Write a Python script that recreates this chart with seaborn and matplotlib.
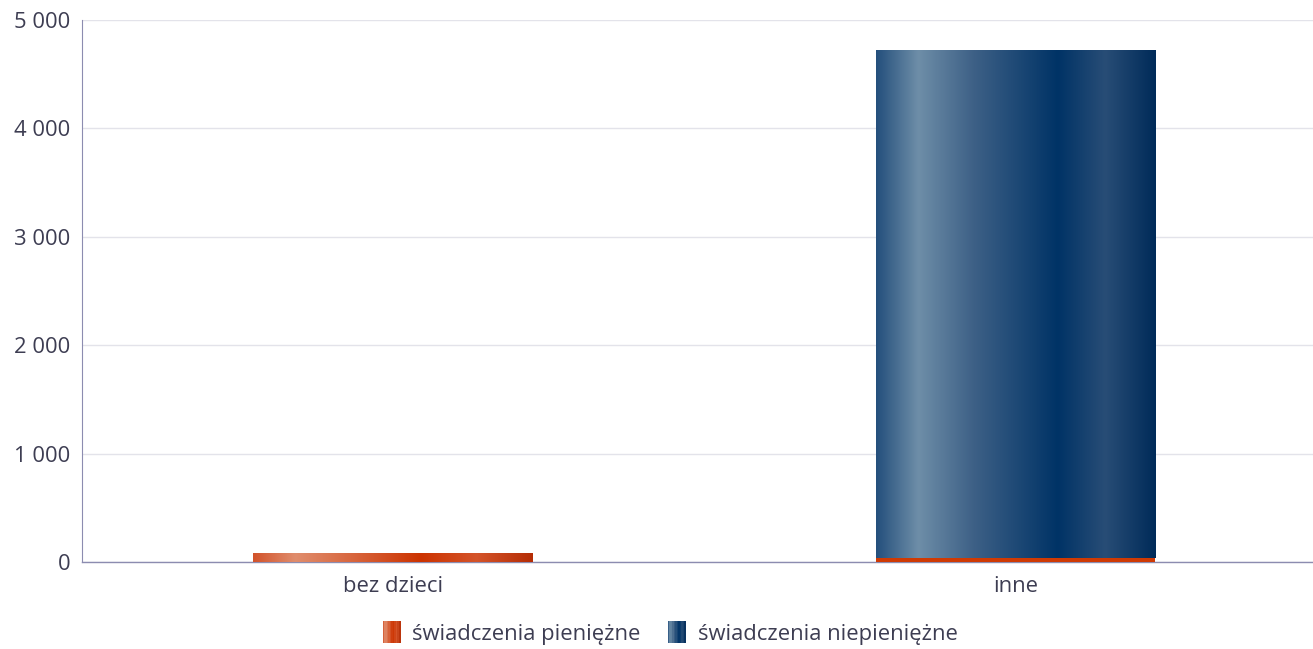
import matplotlib
matplotlib.use("Agg")
import matplotlib.pyplot as plt
import numpy as np
import pandas as pd
import seaborn as sns
from matplotlib.colors import LinearSegmentedColormap
from matplotlib.legend_handler import HandlerBase
from matplotlib.patches import Rectangle
from matplotlib.ticker import FuncFormatter

# data
categories = ["bez dzieci", "inne"]
pieniezne = [75, 40]
niepieniezne = [0, 4685]
series_names = ["świadczenia pieniężne", "świadczenia niepieniężne"]

TEXT = "#3d3d52"
AXIS = "#8c8cb0"
GRID = "#e3e3ea"
FS = 15.8

orange_stops = [(0.0, "#d2532b"), (0.15, "#e08d6d"), (0.35, "#d8673f"),
                (0.6, "#cc3300"), (0.8, "#d4542a"), (1.0, "#b52d05")]
blue_stops = [(0.0, "#244f7c"), (0.15, "#6e8ea8"), (0.35, "#3d6086"),
              (0.65, "#003366"), (0.82, "#284d76"), (1.0, "#002b59")]
orange_cmap = LinearSegmentedColormap.from_list("orange_grad", orange_stops)
blue_cmap = LinearSegmentedColormap.from_list("blue_grad", blue_stops)

df = pd.DataFrame({
    "kategoria": categories,
    "pien": pieniezne,
    "total": [p + n for p, n in zip(pieniezne, niepieniezne)],
})

sns.set_theme(style="white")
plt.rcParams["font.family"] = ["Open Sans", "DejaVu Sans"]

fig = plt.figure(figsize=(13.13, 6.49), dpi=100)
ax = fig.add_axes([82 / 1313, 1 - 562 / 649, 1 - 82 / 1313, (562 - 20) / 649])

BAR_W = 0.449
sns.barplot(data=df, x="kategoria", y="total", color="#003366", width=BAR_W,
            ax=ax, saturation=1, zorder=2, linewidth=0)
sns.barplot(data=df, x="kategoria", y="pien", color="#cf3a04", width=BAR_W,
            ax=ax, saturation=1, zorder=3, linewidth=0)

ax.set_xlim(-0.5, 1.478)
ax.set_ylim(0, 5000)

# paint gradients over the bars
grad = np.linspace(0, 1, 256).reshape(1, -1)
n = len(categories)
for i, patch in enumerate(ax.patches):
    x0 = patch.get_x()
    w, h = patch.get_width(), patch.get_height()
    if h <= 0:
        continue
    idx = i % n
    if i < n:
        # blue part sits on top of the orange part
        bottom = pieniezne[idx]
        if h - bottom > 0:
            ax.imshow(grad, cmap=blue_cmap, aspect="auto",
                      extent=(x0, x0 + w, bottom, h), zorder=2.5)
        patch.set_visible(False)
    elif niepieniezne[idx] > 0:
        # thin strip under a stacked segment is drawn flat
        patch.set_edgecolor("none")
    else:
        ax.imshow(grad, cmap=orange_cmap, aspect="auto",
                  extent=(x0, x0 + w, 0, h), zorder=3.5)
        patch.set_visible(False)

ax.set_xlim(-0.5, 1.478)
ax.set_ylim(0, 5000)
ax.set_yticks(range(0, 5001, 1000))
ax.yaxis.set_major_formatter(FuncFormatter(lambda v, p: f"{int(v):,}".replace(",", " ")))
ax.grid(axis="y", color=GRID, linewidth=1)
ax.set_axisbelow(True)
ax.tick_params(axis="both", length=0, labelsize=FS, labelcolor=TEXT)
ax.tick_params(axis="y", pad=8.5)
ax.tick_params(axis="x", pad=10)
ax.set_xlabel("")
ax.set_ylabel("")
for side in ["top", "right"]:
    ax.spines[side].set_visible(False)
ax.spines["left"].set_color(AXIS)
ax.spines["bottom"].set_color(AXIS)
ax.spines["left"].set_linewidth(0.8)
ax.spines["bottom"].set_linewidth(1.0)


class GradientHandler(HandlerBase):
    def __init__(self, cmap):
        super().__init__()
        self.cmap = cmap

    def create_artists(self, legend, orig_handle, xdescent, ydescent,
                       width, height, fontsize, trans):
        steps = 12
        arts = []
        for k in range(steps):
            r = Rectangle((-xdescent + width * k / steps, -ydescent - 2),
                          width / steps + 0.3, height + 4,
                          facecolor=self.cmap((k + 0.5) / steps),
                          edgecolor="none", transform=trans)
            arts.append(r)
        return arts


h1 = Rectangle((0, 0), 1, 1)
h2 = Rectangle((0, 0), 1, 1)
leg = fig.legend([h1, h2], series_names, loc="center",
                 bbox_to_anchor=(670 / 1313, 1 - 634 / 649), ncol=2,
                 frameon=False, fontsize=FS, handlelength=0.8, handleheight=0.8,
                 handletextpad=0.55, columnspacing=1.25,
                 handler_map={h1: GradientHandler(orange_cmap),
                              h2: GradientHandler(blue_cmap)})
for t in leg.get_texts():
    t.set_color(TEXT)

fig.savefig("out.png", dpi=100)
